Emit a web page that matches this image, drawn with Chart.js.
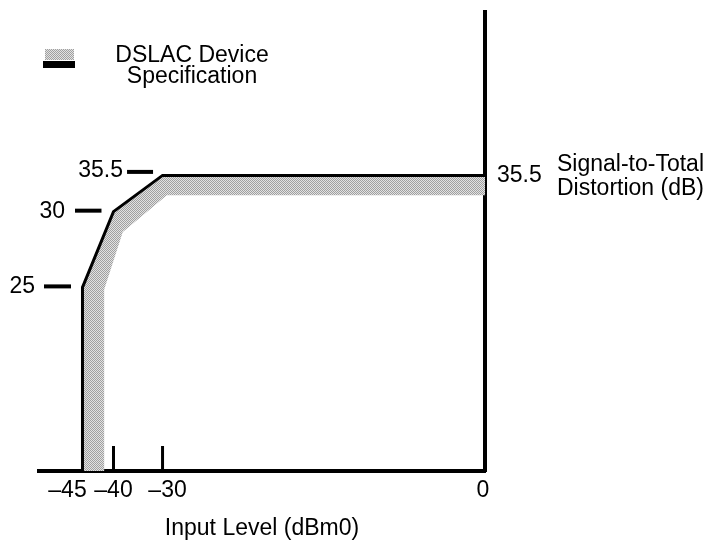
<!DOCTYPE html>
<html>
<head>
<meta charset="utf-8">
<script src="https://cdn.jsdelivr.net/npm/chart.js@4/dist/chart.umd.min.js"></script>
<style>
  html, body { margin: 0; padding: 0; background: #fff; }
  #wrap { width: 712px; height: 542px; position: relative; }
</style>
</head>
<body>
<div id="wrap"><canvas id="c"></canvas></div>
<script>
// ---- Data ----
// Specification limit line: input level (dBm0) vs signal-to-total distortion (dB)
const limitInput = [-45, -45, -40, -30, 0];
const limitSTD   = [0, 25, 30, 35.5, 35.5];
// Inner edge of the shaded specification band
const bandInput  = [0, -29.6, -38.1, -41.5, -41.5];
const bandSTD    = [32.5, 32.5, 28.65, 24.7, 0];
// Axis tick values / labels
const xTicks = [-45, -40, -30, 0];
const xTickMarks = [-40, -30];
const yTicks = [25, 30, 35.5];
const yTickAtInput = [-45, -40, -30];
const yRightTicks = [35.5];
const legendLabel = ['DSLAC Device', 'Specification'];
const xTitle = 'Input Level (dBm0)';
const yTitle = ['Signal-to-Total', 'Distortion (dB)'];

// ---- Schematic (non-uniform) axis breakpoints: [value, fraction of axis] ----
const AXIS_BREAKS = {
  x: [[-50, 0], [-45, 0.0975], [-40, 0.167], [-30, 0.277], [0, 1]],
  y: [[0, 0], [25, 0.40], [30, 0.565], [35.5, 0.644], [45, 1]]
};
// Small per-tick placement tweaks (style only)
const STYLE = {
  xLabelOffset: [-15, 0, 5, -2],
  yTickStart: [-38.5, -38.5, -35.5],
  yTickEnd: [-11.5, -12, -9.5],
  yTickDy: [0, 0, -2.5],
  yLabelEnd: [-47.5, -48.5, -39.5],
  yLabelDy: [6, 6, 1.5]
};

class PiecewiseScale extends Chart.LinearScale {
  _breaks() { return AXIS_BREAKS[this.id]; }
  _toFrac(v) {
    const b = this._breaks();
    if (v <= b[0][0]) return b[0][1];
    for (let i = 1; i < b.length; i++) {
      if (v <= b[i][0]) {
        const v0 = b[i-1][0], f0 = b[i-1][1], v1 = b[i][0], f1 = b[i][1];
        return f0 + (f1 - f0) * (v - v0) / (v1 - v0);
      }
    }
    return b[b.length-1][1];
  }
  getPixelForValue(value) {
    if (value === null || value === undefined || isNaN(value)) return NaN;
    return this.getPixelForDecimal(this._toFrac(value));
  }
  getValueForPixel(pixel) {
    const f = this.getDecimalForPixel(pixel);
    const b = this._breaks();
    for (let i = 1; i < b.length; i++) {
      if (f <= b[i][1]) {
        const v0 = b[i-1][0], f0 = b[i-1][1], v1 = b[i][0], f1 = b[i][1];
        return v0 + (v1 - v0) * (f - f0) / (f1 - f0);
      }
    }
    return b[b.length-1][0];
  }
}
PiecewiseScale.id = 'piecewise';
PiecewiseScale.defaults = Chart.LinearScale.defaults;
Chart.register(PiecewiseScale);

const FONT = '"Liberation Sans", Arial, Helvetica, sans-serif';
const FS = 23;
Chart.defaults.font.family = FONT;
Chart.defaults.font.size = FS;
Chart.defaults.color = '#000';

function makePattern() {
  const p = document.createElement('canvas');
  p.width = 2; p.height = 2;
  const g = p.getContext('2d');
  g.fillStyle = '#e2e2e2'; g.fillRect(0, 0, 2, 2);
  g.fillStyle = '#a0a0a0'; g.fillRect(0, 0, 1, 1); g.fillRect(1, 1, 1, 1);
  return g.createPattern(p, 'repeat');
}
const bandFill = makePattern();

const limitData = limitInput.map((x, i) => ({x, y: limitSTD[i]}));
const bandData = limitData.concat(bandInput.map((x, i) => ({x, y: bandSTD[i]})));

const decorations = {
  id: 'decorations',
  afterDraw(chart) {
    const ctx = chart.ctx, xs = chart.scales.x, ys = chart.scales.y, ca = chart.chartArea;
    ctx.save();
    ctx.fillStyle = '#000';
    ctx.strokeStyle = '#000';
    ctx.font = FS + 'px ' + FONT;
    ctx.textBaseline = 'alphabetic';
    // x tick marks (inside, upward)
    ctx.lineWidth = 3;
    xTickMarks.forEach(v => {
      const px = xs.getPixelForValue(v);
      ctx.beginPath(); ctx.moveTo(px, ca.bottom - 25); ctx.lineTo(px, ca.bottom); ctx.stroke();
    });
    // x tick labels
    ctx.textAlign = 'center';
    xTicks.forEach((v, i) => {
      const px = xs.getPixelForValue(v);
      const lbl = v < 0 ? '\u2013' + Math.abs(v) : String(v);
      ctx.fillText(lbl, px + STYLE.xLabelOffset[i], ca.bottom + 26);
    });
    // y tick marks and labels beside the limit line
    ctx.lineWidth = 4;
    ctx.textAlign = 'right';
    yTicks.forEach((v, i) => {
      const py = ys.getPixelForValue(v);
      const cx = xs.getPixelForValue(yTickAtInput[i]);
      const ty = py - 1 + STYLE.yTickDy[i];
      ctx.beginPath(); ctx.moveTo(cx + STYLE.yTickStart[i], ty); ctx.lineTo(cx + STYLE.yTickEnd[i], ty); ctx.stroke();
      ctx.fillText(String(v), cx + STYLE.yLabelEnd[i], py + STYLE.yLabelDy[i]);
    });
    // right-side title
    ctx.textAlign = 'left';
    const pyT = ys.getPixelForValue(yRightTicks[0]);
    ctx.fillText(yTitle[0], 557, pyT - 4.5);
    ctx.fillText(yTitle[1], 557, pyT + 19.5);
    // legend
    ctx.fillStyle = bandFill;
    ctx.fillRect(45, 49, 29, 11);
    ctx.fillStyle = '#000';
    ctx.fillRect(43, 61, 32, 7);
    ctx.textAlign = 'center';
    ctx.fillText(legendLabel[0], 192, 62);
    ctx.fillText(legendLabel[1], 192, 83);
    ctx.restore();
  }
};

function noPad(s) { s.paddingTop = 0; s.paddingBottom = 0; s.paddingLeft = 0; s.paddingRight = 0; }

new Chart(document.getElementById('c'), {
  type: 'scatter',
  data: {
    datasets: [
      {
        label: 'DSLAC Device Specification',
        data: limitData,
        showLine: true,
        fill: false,
        borderColor: '#000',
        borderWidth: 3,
        borderJoinStyle: 'miter',
        pointRadius: 0,
        tension: 0,
        order: 1
      },
      {
        label: 'Specification band',
        data: bandData,
        showLine: true,
        fill: 'shape',
        backgroundColor: bandFill,
        borderWidth: 0,
        borderColor: 'rgba(0,0,0,0)',
        pointRadius: 0,
        tension: 0,
        order: 2
      }
    ]
  },
  options: {
    responsive: true,
    maintainAspectRatio: false,
    animation: false,
    events: [],
    layout: { padding: { left: 39, top: 12, right: 0, bottom: 0 } },
    plugins: { legend: { display: false }, tooltip: { enabled: false } },
    scales: {
      x: {
        type: 'piecewise',
        position: 'bottom',
        min: -50, max: 0,
        grid: { display: false, drawTicks: false },
        border: { display: true, width: 4, color: '#000' },
        ticks: { display: false },
        title: { display: true, text: xTitle, color: '#000', font: { size: FS, family: FONT }, padding: { top: 0, bottom: 0 } },
        afterFit: (s) => { s.height = 71; noPad(s); }
      },
      y: {
        type: 'piecewise',
        position: 'right',
        min: 0, max: 45,
        grid: { display: false, drawTicks: false },
        border: { display: true, width: 4, color: '#000' },
        ticks: { display: true, padding: 12, color: '#000', font: { size: FS, family: FONT }, callback: (v) => String(v) },
        afterBuildTicks: (s) => { s.ticks = yRightTicks.map(v => ({ value: v })); },
        afterFit: (s) => { s.width = 227; noPad(s); }
      }
    }
  },
  plugins: [decorations]
});
</script>
</body>
</html>
